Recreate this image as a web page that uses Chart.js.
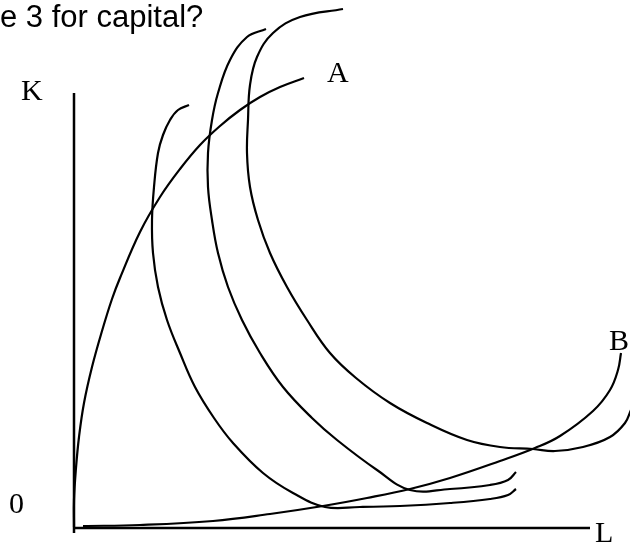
<!DOCTYPE html>
<html lang="en">
<head>
  <meta charset="UTF-8">
  <title>Expansion paths</title>
  <script src="https://cdn.jsdelivr.net/npm/chart.js@4.4.1/dist/chart.umd.min.js"></script>
  <style>
    body {
      margin: 0;
      background: #ffffff;
    }
    #wrap {
      position: relative;
      width: 630px;
      height: 544px;
      overflow: hidden;
    }
    #question {
      position: absolute;
      left: 0;
      top: 1px;
      font-family: "Liberation Sans", Arial, sans-serif;
      font-size: 31px;
      line-height: 31px;
      color: #000000;
      white-space: nowrap;
    }
    #diagram {
      position: absolute;
      left: 0;
      top: 0;
    }
  </style>
</head>
<body>
  <div id="wrap">
    <canvas id="diagram" width="630" height="544"></canvas>
    <div id="question">e 3 for capital?</div>
  </div>

  <script>
    // curves, as [L, K] pairs (origin at the axes corner)
    var pathA = [[0, 0], [0, 27], [2, 59], [5, 90], [10, 124], [18, 160], [28, 196], [38, 228], [46, 249],
      [66, 295], [86, 330], [106, 358], [126, 382], [146, 401], [166, 417], [186, 430], [206, 440], [230, 449]];
    var pathB = [[9, 1], [66, 2], [139, 6], [196, 13], [249, 21], [293, 29], [336, 38], [376, 49], [426, 66],
      [461, 79], [486, 91], [519, 116], [536, 137], [544, 157], [547, 174]];
    var iso1 = [[115, 422], [104, 417], [96, 407], [89, 392], [84, 374], [80, 340], [78, 307], [79, 274],
      [84, 240], [93, 207], [106, 174], [121, 140], [140, 109], [159, 84], [189, 54], [219, 34], [251, 20],
      [286, 20], [326, 21], [376, 24], [416, 28], [434, 32], [442, 38]];
    var iso2 = [[192, 498], [173, 490], [156, 467], [144, 434], [138, 407], [134, 374], [134, 340], [138, 307],
      [144, 274], [154, 240], [168, 207], [186, 174], [209, 140], [238, 109], [263, 87], [303, 57], [336, 37],
      [376, 38], [416, 42], [434, 47], [442, 55]];
    var iso3 = [[269, 518], [226, 510], [199, 494], [183, 470], [176, 442], [174, 407], [173, 374], [176, 340],
      [184, 307], [196, 274], [213, 240], [233, 207], [256, 174], [282, 149], [316, 124], [353, 104], [393, 87],
      [426, 80], [459, 78], [481, 76], [509, 80], [536, 90], [551, 104], [557, 117]];
    var axisK = [[0, -6], [0, 434]];
    var axisL = [[0, -1], [516, -1]];

    var labelText = ['K', 'A', '0', 'B', 'L'];
    var labelAt = [[-53, 427], [253, 445], [-65, 14], [535, 177], [521, -15]];

    function toPoints(list) {
      return list.map(function(p) { return { x: p[0], y: p[1] }; });
    }

    function curve(list, width, bend) {
      return {
        data: toPoints(list),
        showLine: true,
        borderColor: '#000000',
        borderWidth: width,
        pointRadius: 0,
        tension: bend,
        fill: false
      };
    }

    // letters on the axes and at the ends of the paths
    var letters = {
      id: 'letters',
      afterDatasetsDraw: function(chart) {
        var ctx = chart.ctx;
        ctx.save();
        ctx.fillStyle = '#000000';
        ctx.font = '30px "Liberation Serif", "Times New Roman", serif';
        ctx.textBaseline = 'alphabetic';
        ctx.textAlign = 'left';
        for (var i = 0; i < labelText.length; i++) {
          ctx.fillText(labelText[i],
            chart.scales.x.getPixelForValue(labelAt[i][0]),
            chart.scales.y.getPixelForValue(labelAt[i][1]));
        }
        ctx.restore();
      }
    };

    document.addEventListener('DOMContentLoaded', function() {
      var ctx = document.getElementById('diagram').getContext('2d');
      new Chart(ctx, {
        type: 'scatter',
        data: {
          datasets: [
            curve(axisK, 2.5, 0),
            curve(axisL, 2.5, 0),
            curve(pathA, 2.2, 0.4),
            curve(pathB, 2.2, 0.4),
            curve(iso1, 2.2, 0.4),
            curve(iso2, 2.2, 0.4),
            curve(iso3, 2.2, 0.4)
          ]
        },
        options: {
          responsive: false,
          animation: false,
          devicePixelRatio: 1,
          layout: { padding: 0 },
          plugins: {
            legend: { display: false },
            tooltip: { enabled: false }
          },
          scales: {
            x: { type: 'linear', min: -74, max: 556, display: false },
            y: { type: 'linear', min: -17, max: 527, display: false }
          }
        },
        plugins: [letters]
      });
    });
  </script>
</body>
</html>
